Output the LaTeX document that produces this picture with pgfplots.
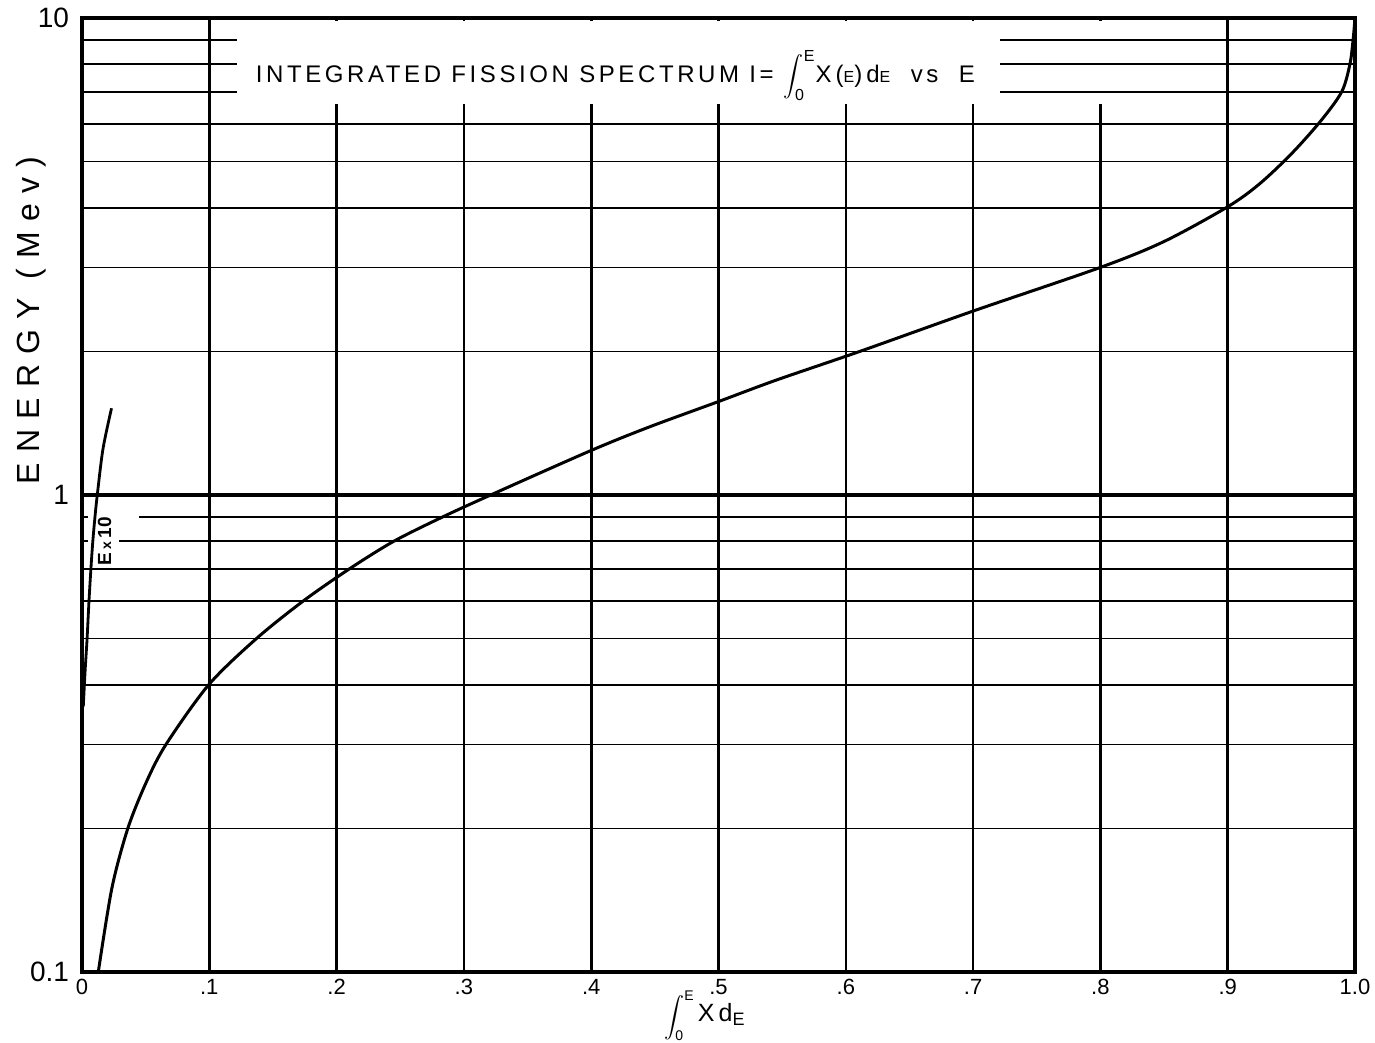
\documentclass[border=0pt]{standalone}
\usepackage{fontspec}
\setmainfont{Liberation Sans}
\usepackage{pgfplots}
\pgfplotsset{compat=1.18}

\begin{document}
\begin{tikzpicture}
\useasboundingbox (-41pt,-35.5pt) rectangle (646.5pt,486pt);
\begin{axis}[
    at={(0,0)}, anchor=south west,
    scale only axis, width=636.5pt, height=477pt,
    xmin=0, xmax=1, ymin=0.1, ymax=10, ymode=log,
    xtick={0,0.1,0.2,0.3,0.4,0.5,0.6,0.7,0.8,0.9,1},
    xticklabels={0,.1,.2,.3,.4,.5,.6,.7,.8,.9,1.0},
    ytick={0.1,1,10}, yticklabels={0.1,1,10},
    minor ytick={0.2,0.3,0.4,0.5,0.6,0.7,0.8,0.9,2,3,4,5,6,7,8,9},
    major tick length=0pt, minor tick length=0pt,
    grid=both,
    major grid style={black, line width=1.3pt},
    minor grid style={black, line width=0.9pt},
    axis line style={line width=2.2pt},
    xticklabel style={font=\fontsize{11}{12}\selectfont},
    yticklabel style={font=\fontsize{14}{15}\selectfont, xshift=-3pt},
    xlabel={$\displaystyle\int\nolimits_{\hbox{\scriptsize 0}}^{\hbox{\scriptsize E}}$\,{\fontsize{12.5}{13}\selectfont X\,d}{\small\raisebox{-2pt}{E}}},
    xlabel style={at={(axis description cs:0.489,-0.0725)}, anchor=south, inner sep=0pt, font=\fontsize{9.5}{10}\selectfont},
    ylabel={\addfontfeature{LetterSpace=32}ENERGY (Mev)},
    ylabel style={at={(axis description cs:-0.04,0.683)}, anchor=center, font=\fontsize{16}{17}\selectfont},
]
% gaps in the grid behind the title and the small label
\fill[white] (axis cs:0.1218,6.6) rectangle (axis cs:0.721,9.86);
\fill[white] (axis cs:0.7965,6.6) rectangle (axis cs:0.8035,9.86);
\draw[line width=0.9pt] (axis cs:0.721,7) -- (axis cs:1,7);
\draw[line width=0.9pt] (axis cs:0.721,8) -- (axis cs:1,8);
\draw[line width=0.9pt] (axis cs:0.721,9) -- (axis cs:1,9);
\fill[white] (axis cs:0.0047,0.88) rectangle (axis cs:0.0448,0.92);
\fill[white] (axis cs:0.0047,0.78) rectangle (axis cs:0.029,0.82);
\draw[line width=2pt] (axis cs:0,1) -- (axis cs:1,1);

\addplot[line width=1.5pt, smooth] coordinates {
(0.0128,0.1) (0.0235,0.15) (0.036,0.2) (0.0505,0.25) (0.066,0.3)
(0.0995,0.4) (0.137,0.5) (0.174,0.6) (0.210,0.7) (0.245,0.8)
(0.2835,0.9) (0.321,1.0) (0.4,1.24) (0.446,1.39) (0.5,1.57)
(0.545,1.74) (0.611,2.0) (0.7,2.43) (0.8,3.0) (0.85,3.40)
(0.9,4.02) (0.925,4.49) (0.95,5.19) (0.973,6.08) (0.9895,7.0)
(0.996,8.0) (0.9985,9.0) (1.0,10.0)
};
\addplot[line width=1.4pt, smooth] coordinates {
(0.001,0.36) (0.0025,0.43) (0.004,0.5) (0.0055,0.6) (0.007,0.7) (0.0085,0.8)
(0.0102,0.9) (0.012,1.0) (0.0165,1.25) (0.0232,1.52)
};
\node[rotate=90, font=\fontsize{9.5}{10}\selectfont\bfseries] at (axis cs:0.0178,0.80) {E\,{\scriptsize x}\,10};
\node[font=\fontsize{12}{13}\selectfont\addfontfeature{LetterSpace=15}] at (rel axis cs:0.419,0.940)
  {INTEGRATED FISSION SPECTRUM I= $\displaystyle\int\nolimits_{\hbox{\footnotesize 0}}^{\hbox{\footnotesize E}}$X\,({\footnotesize E})\,d{\footnotesize E} \ vs \ E};
\end{axis}
\end{tikzpicture}
\end{document}
